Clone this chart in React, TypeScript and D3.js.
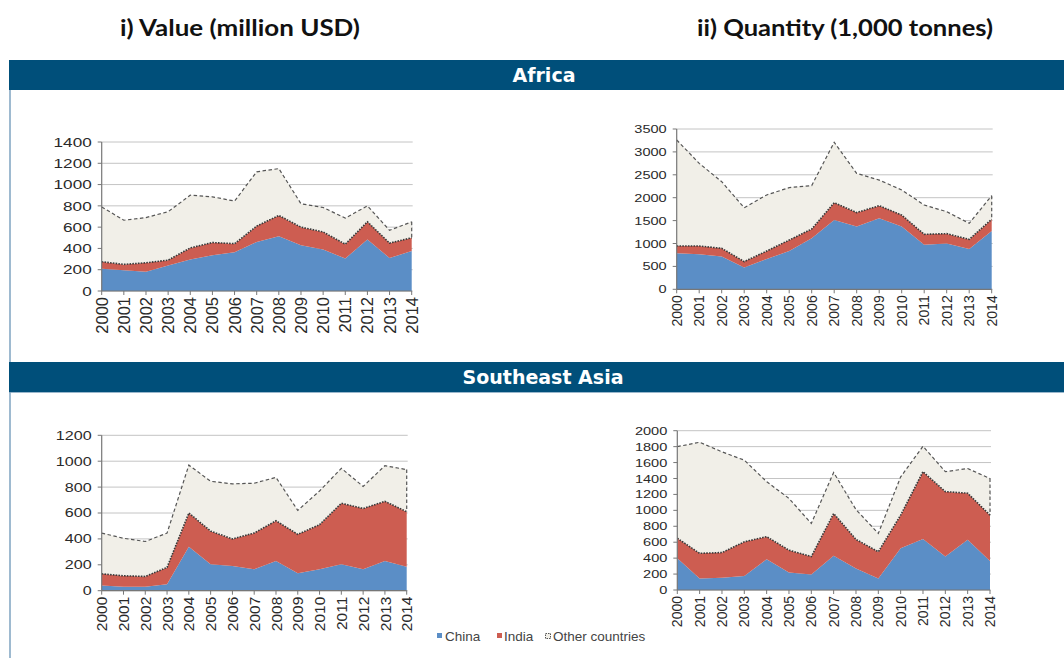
import * as d3 from "d3";
import React from "react";

const years = [2000, 2001, 2002, 2003, 2004, 2005, 2006, 2007, 2008, 2009, 2010, 2011, 2012, 2013, 2014];

// Africa, value (million USD)
const afValChina = [210, 195, 180, 240, 295, 335, 365, 460, 515, 430, 390, 305, 485, 310, 375];
const afValIndia = [65, 55, 85, 50, 110, 120, 80, 150, 195, 170, 165, 135, 165, 140, 125];
const afValOther = [515, 415, 425, 455, 495, 430, 400, 510, 440, 220, 230, 245, 150, 120, 150];

// Africa, quantity (1,000 tonnes)
const afQtyChina = [785, 765, 715, 475, 660, 835, 1115, 1515, 1370, 1550, 1370, 970, 1000, 880, 1275];
const afQtyIndia = [160, 180, 180, 130, 175, 240, 200, 375, 305, 275, 250, 230, 215, 210, 255];
const afQtyOther = [2315, 1805, 1455, 1175, 1225, 1145, 950, 1320, 855, 560, 550, 640, 480, 350, 515];

// Southeast Asia, value
const seValChina = [40, 30, 30, 50, 340, 205, 190, 165, 230, 135, 165, 205, 165, 230, 185];
const seValIndia = [90, 85, 80, 130, 260, 255, 210, 280, 310, 300, 345, 470, 470, 460, 425];
const seValOther = [315, 290, 270, 265, 370, 385, 425, 385, 335, 185, 260, 270, 170, 275, 325];

// Southeast Asia, quantity
const seQtyChina = [400, 145, 155, 175, 385, 220, 195, 430, 270, 145, 525, 640, 420, 630, 365];
const seQtyIndia = [250, 315, 315, 430, 285, 280, 225, 530, 365, 335, 415, 845, 815, 585, 575];
const seQtyOther = [1150, 1395, 1265, 1025, 690, 650, 415, 515, 375, 230, 480, 320, 250, 310, 460];

const keys = ["china", "india", "other"];
const legendLabels = ["China", "India", "Other countries"];
const colors = { china: "#5b8ec6", india: "#cd5d51", other: "#f1efe8" };

type Row = { year: number; china: number; india: number; other: number };

const rows = (c: number[], i: number[], o: number[]): Row[] =>
  years.map((y, k) => ({ year: y, china: c[k], india: i[k], other: o[k] }));

type ChartProps = {
  data: Row[];
  yMax: number;
  step: number;
  x0: number;
  x1: number;
  y0: number;
  y1: number;
  fontSize: number;
};

const axisFont = "'Liberation Sans', Arial, sans-serif";

function StackChart({ data, yMax, step, x0, x1, y0, y1, fontSize }: ChartProps) {
  const x = d3.scaleLinear().domain([2000, 2014]).range([x0, x1]);
  const y = d3.scaleLinear().domain([0, yMax]).range([y0, y1]);
  const series = d3.stack<Row>().keys(keys)(data);

  const area = d3
    .area<d3.SeriesPoint<Row>>()
    .x((d) => x(d.data.year))
    .y0((d) => y(d[0]))
    .y1((d) => y(d[1]));
  const top = d3
    .line<d3.SeriesPoint<Row>>()
    .x((d) => x(d.data.year))
    .y((d) => y(d[1]));

  const ticks = d3.range(0, yMax + 1, step);
  const last = series[2][series[2].length - 1];
  const yFont = fontSize * 0.8;

  return (
    <g>
      {ticks.map((t) => (
        <line key={t} x1={x0} x2={x1 + 1} y1={y(t)} y2={y(t)} stroke="#c4c4c4" strokeWidth={1} />
      ))}
      {series.map((s) => (
        <path key={s.key} d={area(s) ?? ""} fill={colors[s.key as keyof typeof colors]} />
      ))}
      <path d={top(series[1]) ?? ""} fill="none" stroke="#3a3a3a" strokeWidth={1.6} strokeDasharray="1.6,1.2" />
      <path d={top(series[2]) ?? ""} fill="none" stroke="#555" strokeWidth={1.2} strokeDasharray="3.5,2.5" />
      <line
        x1={x(2014)}
        x2={x(2014)}
        y1={y(last[1])}
        y2={y(last[0])}
        stroke="#555"
        strokeWidth={1.2}
        strokeDasharray="3.5,2.5"
      />
      <line x1={x0} x2={x0} y1={y1} y2={y0} stroke="#777" strokeWidth={1.2} />
      <line x1={x0} x2={x1} y1={y0} y2={y0} stroke="#777" strokeWidth={1.2} />
      {ticks.map((t) => (
        <g key={"l" + t}>
          <line x1={x0 - 4} x2={x0} y1={y(t)} y2={y(t)} stroke="#777" />
          <text
            transform={`translate(${x0 - 10},${y(t)}) scale(1.3,1)`}
            dy="0.36em"
            textAnchor="end"
            fontSize={yFont}
            fill="#2a2a2a"
            fontFamily={axisFont}
          >
            {t}
          </text>
        </g>
      ))}
      {years.map((yr) => (
        <g key={yr}>
          <line x1={x(yr)} x2={x(yr)} y1={y0} y2={y0 + 4} stroke="#777" />
          <text
            transform={`translate(${x(yr)},${y0 + 6}) rotate(-90)`}
            dy="0.36em"
            textAnchor="end"
            fontSize={fontSize}
            fill="#2a2a2a"
            fontFamily={axisFont}
          >
            {yr}
          </text>
        </g>
      ))}
    </g>
  );
}

export default function App() {
  const headerFill = "#004f7a";
  return (
    <svg
      width={1064}
      height={658}
      style={{ position: "absolute", left: 0, top: 0, background: "#fff" }}
    >
      <text x={240} y={36} textAnchor="middle" fontFamily="Lato, sans-serif" fontWeight="bold" fontSize={23}
        fill="#111" textLength={240} lengthAdjust="spacingAndGlyphs">
        i) Value (million USD)
      </text>
      <text x={845} y={36} textAnchor="middle" fontFamily="Lato, sans-serif" fontWeight="bold" fontSize={23}
        fill="#111" textLength={296} lengthAdjust="spacingAndGlyphs">
        ii) Quantity (1,000 tonnes)
      </text>

      <rect x={9} y={60} width={1055} height={30} fill={headerFill} />
      <text x={544} y={82} textAnchor="middle" fontFamily="'DejaVu Sans', Verdana, sans-serif" fontWeight="bold"
        fontSize={19} fill="#fff">
        Africa
      </text>
      <rect x={9} y={362} width={1055} height={30} fill={headerFill} />
      <line x1={9} x2={1064} y1={392.5} y2={392.5} stroke="#9ab7cc" />
      <text x={543} y={384} textAnchor="middle" fontFamily="'DejaVu Sans', Verdana, sans-serif" fontWeight="bold"
        fontSize={19} fill="#fff">
        Southeast Asia
      </text>
      <line x1={10} x2={10} y1={90} y2={362} stroke="#7ea3c0" strokeWidth={1.5} />
      <line x1={10} x2={10} y1={392} y2={658} stroke="#7ea3c0" strokeWidth={1.5} />

      <StackChart data={rows(afValChina, afValIndia, afValOther)} yMax={1400} step={200} x0={101.7} x1={411.7} y0={291} y1={142} fontSize={16.5} />
      <StackChart data={rows(afQtyChina, afQtyIndia, afQtyOther)} yMax={3500} step={500} x0={676.7} x1={991.7} y0={289.3} y1={129} fontSize={14} />
      <StackChart data={rows(seValChina, seValIndia, seValOther)} yMax={1200} step={200} x0={101.7} x1={406.7} y0={590.7} y1={435.3} fontSize={15.5} />
      <StackChart data={rows(seQtyChina, seQtyIndia, seQtyOther)} yMax={2000} step={200} x0={677.3} x1={990} y0={590} y1={430.7} fontSize={14} />

      <g fontFamily={axisFont} fontSize={13.5} fill="#444">
        <rect x={437} y={633} width={5} height={5} fill={colors.china} />
        <text x={445} y={641}>{legendLabels[0]}</text>
        <rect x={497} y={633} width={5} height={5} fill={colors.india} />
        <text x={504} y={641}>{legendLabels[1]}</text>
        <rect x={545.5} y={633.5} width={5} height={5} fill={colors.other} stroke="#555" strokeWidth={1} strokeDasharray="1.5,1" />
        <text x={553} y={641}>{legendLabels[2]}</text>
      </g>
    </svg>
  );
}
